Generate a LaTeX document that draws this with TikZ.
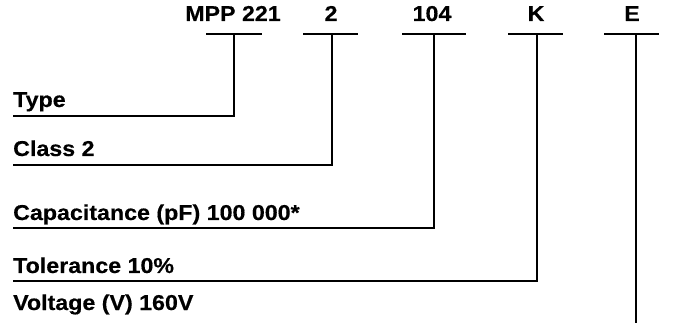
\documentclass[tikz,border=0pt]{standalone}
\usepackage{fontspec}
\setmainfont[FakeStretch=1.08, FakeBold=0.4]{Liberation Sans}

\tikzset{
  code/.style={font=\bfseries\fontsize{21.5}{25}\selectfont, inner sep=0pt, anchor=base},
  field/.style={font=\bfseries\fontsize{21.5}{25}\selectfont, inner sep=0pt, anchor=base west},
  lead/.style={line width=2pt},
}

\begin{document}
\begin{tikzpicture}[x=1pt, y=-1pt]
    \useasboundingbox (0,0) rectangle (674,336);

    % Code letters
    \node[code] (mpp) at (233,21) {MPP 221};
    \node[code] (cls) at (331,21) {2};
    \node[code] (cap) at (432,21) {104};
    \node[code] (tol) at (536,21) {K};
    \node[code] (volt) at (632,21) {E};

    % Bars under the codes
    \draw[lead] (206,34) -- (262,34);
    \draw[lead] (303,34) -- (358,34);
    \draw[lead] (402,34) -- (466,34);
    \draw[lead] (508,34) -- (563,34);
    \draw[lead] (604,34) -- (659,34);
    \coordinate (mppBar) at (234,34);
    \coordinate (clsBar) at (332,34);
    \coordinate (capBar) at (434,34);
    \coordinate (tolBar) at (537,34);
    \coordinate (voltBar) at (636,34);

    % Field names
    \node[field] (typeName) at (13,107) {Type};
    \node[field] (clsName) at (13,156) {Class 2};
    \node[field] (capName) at (13,220) {Capacitance (pF) 100 000*};
    \node[field] (tolName) at (13,273) {Tolerance 10\%};
    \node[field] (voltName) at (13,310) {Voltage (V) 160V};

    % Leads from the bars down to the names
    \coordinate (typeEnd) at (13,116);
    \coordinate (clsEnd) at (13,165);
    \coordinate (capEnd) at (13,228);
    \coordinate (tolEnd) at (13,281);
    \draw[lead] (mppBar) |- (typeEnd);
    \draw[lead] (clsBar) |- (clsEnd);
    \draw[lead] (capBar) |- (capEnd);
    \draw[lead] (tolBar) |- (tolEnd);
    \draw[lead] (voltBar) -- (voltBar |- 0,323);
\end{tikzpicture}
\end{document}
